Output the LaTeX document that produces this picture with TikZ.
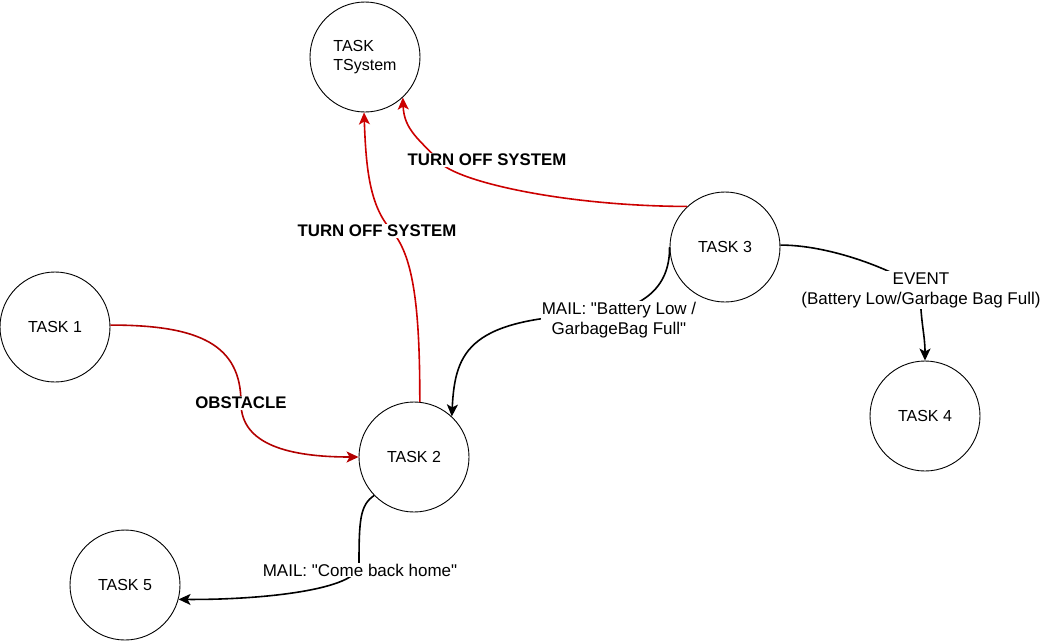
\documentclass[tikz,border=0pt]{standalone}
\usepackage{fontspec}
\setmainfont{Liberation Sans}
\usetikzlibrary{arrows.meta}
\definecolor{offred}{RGB}{204,0,0}
\definecolor{obstred}{RGB}{178,0,0}

\begin{document}
\begin{tikzpicture}[
    x=1pt, y=-1pt,
    task/.style={circle, draw, line width=0.9pt, minimum size=110pt, inner sep=0pt, align=center, font=\fontsize{16}{19}\selectfont},
    lbl/.style={fill=white, text=black, inner sep=1pt, align=center, font=\fontsize{17}{20}\selectfont},
    boldlbl/.style={lbl, font=\fontsize{16.8}{20}\selectfont\bfseries},
    arrow/.style={-{Stealth[length=12pt, width=11pt, inset=3pt]}, line width=1.6pt}
]
\useasboundingbox (0,0) rectangle (1041,641);

\node[task, align=left] (tsys) at (365,57) {TASK\\TSystem};
\node[task] (t1) at (55,327) {TASK 1};
\node[task] (t2) at (414,457) {TASK 2};
\node[task] (t3) at (725,247) {TASK 3};
\node[task] (t4) at (925,416) {TASK 4};
\node[task] (t5) at (125,585) {TASK 5};

\draw[arrow, obstred] (t1.2) .. controls (200,325) and (241,345) .. (241,403)
    node[boldlbl] {OBSTACLE} .. controls (241,445) and (290,457) .. (t2.west);
\draw[arrow, offred] (t2.84) .. controls (420,300) and (412,255) .. (392,231)
    .. controls (370,207) and (366,170) .. (tsys.269)
    node[boldlbl] at (377,231) {TURN OFF SYSTEM};
\draw[arrow, offred] (t3.133) .. controls (560,206) and (450,180) .. (438,160)
    .. controls (420,140) and (404,130) .. (tsys.313)
    node[boldlbl] at (487,160) {TURN OFF SYSTEM};
\draw[arrow] (t3.west) .. controls (670,290) and (640,308) .. (600,314)
    .. controls (470,318) and (455,350) .. (t2.47)
    node[lbl] at (619,320) {MAIL: \textquotedbl Battery Low /\\GarbageBag Full\textquotedbl};
\draw[arrow] (t3.2) .. controls (840,245) and (915,280) .. (920,291)
    .. controls (921,325) and (925,335) .. (t4.north)
    node[lbl] at (921,290) {EVENT\\(Battery Low/Garbage Bag Full)};
\draw[arrow] (t2.224) .. controls (360,505) and (359,520) .. (359,565)
    .. controls (358,590) and (260,600) .. (t5.345)
    node[lbl] at (360,570) {MAIL: \textquotedbl Come back home\textquotedbl};
\end{tikzpicture}
\end{document}
